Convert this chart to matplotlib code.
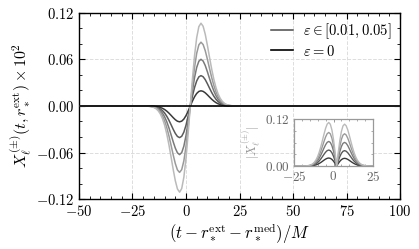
import numpy as np
import matplotlib
matplotlib.use("Agg")
import matplotlib.pyplot as plt
from matplotlib.ticker import MultipleLocator

plt.rcParams['mathtext.fontset'] = 'cm'
plt.rcParams['font.family'] = ['DejaVu Serif']

# time samples (t - r_ext - r_med)/M
t = [-50, -25] + list(range(-21, 27)) + [30, 100]
# normalised waveform shape (largest curve = amplitude 1)
shape = [0.0, 0.0,
         -0.0003, -0.0005, -0.0010, -0.0022, -0.0047, -0.0093, -0.0176, -0.0321,
         -0.0560, -0.0934, -0.149, -0.226, -0.329, -0.455, -0.599, -0.748,
         -0.883, -0.982, -1.02, -0.977, -0.843, -0.621, -0.329, 0.0,
         0.317, 0.597, 0.809, 0.939, 0.980, 0.944, 0.849, 0.718, 0.575, 0.437,
         0.317, 0.218, 0.143, 0.090, 0.054, 0.031, 0.017, 0.0089, 0.0045,
         0.0022, 0.0010, 0.0005, 0.0002, 0.0,
         0.0, 0.0]
# peak amplitudes (x10^2) for eps = 0.01 ... 0.05
amplitudes = [0.0200, 0.0400, 0.0615, 0.0840, 0.1090]
colors = ['#3a3a3a', '#5a5a5a', '#7a7a7a', '#9a9a9a', '#bababa']

t = np.array(t, dtype=float)
shape = np.array(shape)

fig = plt.figure(figsize=(4.19, 2.49), dpi=100)
ax = fig.add_axes([0.1885, 0.2008, 0.7662, 0.747])

for a, c in zip(amplitudes, colors):
    ax.plot(t, a * shape, color=c, lw=1.1, zorder=3)
ax.plot([-50, 100], [0, 0], color='black', lw=1.2, zorder=4)

ax.set_xlim(-50, 100)
ax.set_ylim(-0.12, 0.12)
xt = [-50, -25, 0, 25, 50, 75, 100]
ax.set_xticks(xt)
ax.set_xticklabels([r'$%d$' % v for v in xt])
yt = [-0.12, -0.06, 0.0, 0.06, 0.12]
ax.set_yticks(yt)
ax.set_yticklabels([r'$%.2f$' % v for v in yt])
ax.xaxis.set_minor_locator(MultipleLocator(5))
ax.yaxis.set_minor_locator(MultipleLocator(0.02))
ax.tick_params(which='both', direction='in', top=True, right=True, labelsize=10.5)
ax.tick_params(which='major', length=4, width=0.8)
ax.tick_params(which='minor', length=2, width=0.6)
ax.grid(True, which='major', ls='--', color='#dddddd', lw=0.7, zorder=0)
for s in ax.spines.values():
    s.set_linewidth(1.0)

ax.set_xlabel(r'$(t - r_*^{\rm ext} - r_*^{\rm med})/M$', fontsize=12, labelpad=2)
ax.set_ylabel(r'$X_\ell^{(\pm)}(t, r_*^{\rm ext}) \times 10^2$', fontsize=11.5, labelpad=1)

ax.plot([], [], color='#4a4a4a', lw=1.1, label=r'$\varepsilon \in [0.01, 0.05]$')
ax.plot([], [], color='black', lw=1.2, label=r'$\varepsilon = 0$')
ax.legend(loc='upper right', frameon=False, fontsize=10.5, handlelength=1.5,
          borderaxespad=0.2, labelspacing=0.15, handletextpad=0.7)

# inset
ins = fig.add_axes([294 / 419, 1 - 166 / 249, 79 / 419, 47 / 249])
ins.set_facecolor('white')
for a, c in zip(amplitudes, colors):
    ins.plot(t, np.abs(a * shape), color=c, lw=1.0)
ins.set_xlim(-25, 25)
ins.set_ylim(0, 0.12)
ins.set_xticks([-25, 0, 25])
ins.set_xticklabels([r'$-25$', r'$0$', r'$25$'])
ins.set_yticks([0, 0.12])
ins.set_yticklabels([r'$0.00$', r'$0.12$'])
ins.xaxis.set_minor_locator(MultipleLocator(5))
ins.yaxis.set_minor_locator(MultipleLocator(0.03))
ins.tick_params(which='both', direction='in', top=True, right=True, labelsize=9.5,
                colors='#888888', labelcolor='#666666', pad=3)
ins.tick_params(which='major', length=2.5, width=0.6)
ins.tick_params(which='minor', length=1.5, width=0.5)
for s in ins.spines.values():
    s.set_color('#999999')
    s.set_linewidth(0.9)
ins.set_ylabel(r'$|X_\ell^{(\pm)}|$', fontsize=9, color='#999999', labelpad=2)

fig.savefig('out.png', dpi=100)
